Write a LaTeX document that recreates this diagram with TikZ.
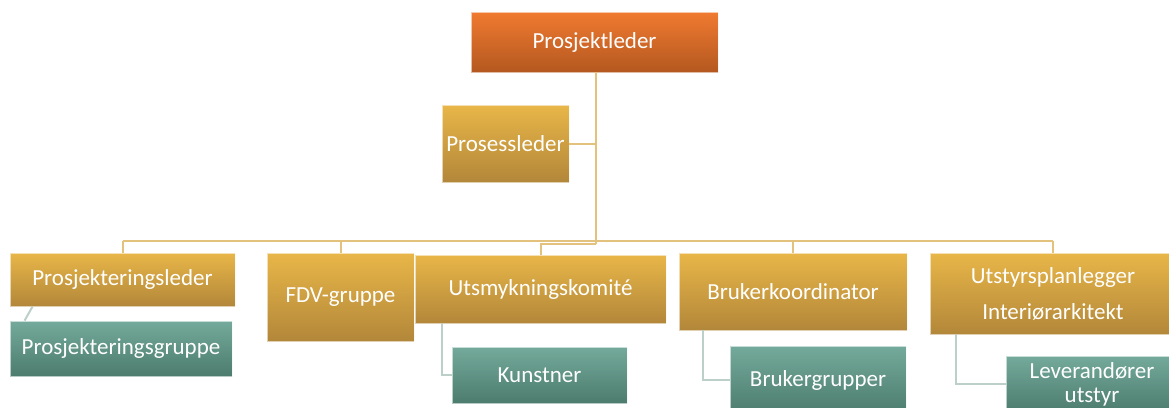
\documentclass[tikz,border=0pt]{standalone}
\usepackage{fontspec}
\setmainfont{Carlito}
\usetikzlibrary{calc}
\definecolor{goldT}{HTML}{E8B648}
\definecolor{goldB}{HTML}{B3873A}
\definecolor{orT}{HTML}{F07A30}
\definecolor{orB}{HTML}{B45820}
\definecolor{teT}{HTML}{74AA9B}
\definecolor{teB}{HTML}{4C7C6E}
\definecolor{goldLine}{HTML}{E2C27C}
\definecolor{teLine}{HTML}{BCCFC9}
\tikzset{
  box/.style={rectangle, inner sep=0pt, draw=white, draw opacity=0.6, line width=0.8pt,
    text=white, align=center, font=\fontsize{23}{28}\selectfont},
  goldbox/.style={box, top color=goldT, bottom color=goldB},
  orbox/.style={box, top color=orT, bottom color=orB},
  tealbox/.style={box, top color=teT, bottom color=teB},
  gline/.style={draw=goldLine, line width=2pt},
  tline/.style={draw=teLine, line width=2pt},
}
\begin{document}
\begin{tikzpicture}[x=1pt,y=-1pt]
\useasboundingbox (0,0) rectangle (1169,407);
\clip (0,0) rectangle (1169,407);
\fill[white] (0,0) rectangle (1169,407);
% nodes
\node[orbox, minimum width=247pt, minimum height=60pt] (pl) at (594.5,42) {Prosjektleder};
\node[goldbox, minimum width=127pt, minimum height=77pt] (ps) at (505.5,143.5) {Prosessleder};
\node[goldbox, minimum width=225pt, minimum height=53pt] (pjl) at (122.5,279.5) {Prosjekteringsleder};
\node[tealbox, minimum width=222pt, minimum height=55pt] (pjg) at (121,348.5) {Prosjekteringsgruppe};
\node[goldbox, minimum width=147pt, minimum height=88pt] (fdv) at (340.5,297) {FDV-gruppe};
\node[goldbox, minimum width=251pt, minimum height=68pt] (us) at (540.5,289) {Utsmykningskomité};
\node[tealbox, minimum width=175pt, minimum height=56pt] (ku) at (539.5,375) {Kunstner};
\node[goldbox, minimum width=228pt, minimum height=77pt] (bk) at (793,291.5) {Brukerkoordinator};
\node[tealbox, minimum width=176pt, minimum height=68pt] (bg) at (818,380) {Brukergrupper};
\node[goldbox, minimum width=246pt, minimum height=81pt, font=\fontsize{23}{36}\selectfont] (ut) at (1053,293.5) {Utstyrsplanlegger\\Interiørarkitekt};
\node[tealbox, minimum width=172pt, minimum height=56pt, font=\fontsize{23}{24}\selectfont] (lv) at (1092,384) {Leverandører\\utstyr};
% junction coordinates
\coordinate (tr) at (596,244);
\coordinate (busL) at (122.5,241);
\coordinate (busR) at (1053,241);
% connectors (gold)
\draw[gline] ([xshift=1.5pt]pl.south) -- (tr);
\draw[gline] (ps.east) -- (ps.east -| tr);
\draw[gline] (busL) -- (busR);
\draw[gline] (pjl.north) -- (busL);
\draw[gline] (fdv.north) -- (fdv.north |- busL);
\draw[gline] (tr) -| (us.north);
\draw[gline] (bk.north) -- (bk.north |- busL);
\draw[gline] (ut.north) -- (busR);
% connectors (teal)
\draw[tline] ([xshift=23pt]pjl.south west) -- ([xshift=15pt]pjg.north west);
\draw[tline] ([xshift=27pt]us.south west) |- (ku.west);
\draw[tline] ([xshift=24pt]bk.south west) |- (bg.west);
\draw[tline] ([xshift=26pt]ut.south west) |- (lv.west);
\end{tikzpicture}
\end{document}
